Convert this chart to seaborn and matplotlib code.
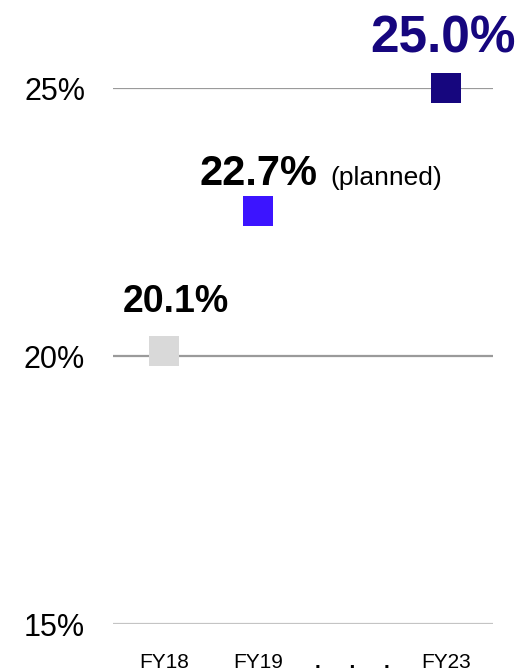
import matplotlib
matplotlib.use('Agg')
import matplotlib.pyplot as plt
import seaborn as sns
import pandas as pd

# data
categories = ['FY18', 'FY19', '.     .     .', 'FY23']
years = ['FY18', 'FY19', 'FY23']
values = [20.1, 22.7, 25.0]
value_labels = ['20.1%', '22.7%', '25.0%']
colors = ['#d9d9d9', '#3c14ff', '#16067e']
label_colors = ['#000000', '#000000', '#16067e']
y_ticks = [15, 20, 25]
y_tick_labels = ['15%', '20%', '25%']

sns.set_theme(style='white')
plt.rcParams['font.family'] = ['Liberation Sans', 'DejaVu Sans']

df = pd.DataFrame({'year': years, 'value': values})

fig = plt.figure(figsize=(5.31, 6.71), dpi=100)
ax = fig.add_axes([113 / 531, 47 / 671, 380 / 531, 536 / 671])

# gridlines
for t, c in zip(y_ticks, ['#c4c4c4', '#9a9a9a', '#9a9a9a']):
    ax.axhline(t, color=c, lw=1.6, zorder=0)

sns.stripplot(data=df, x='year', y='value', hue='year', order=categories,
              palette=dict(zip(years, colors)), marker='s', size=21.6,
              jitter=False, linewidth=0, legend=False, ax=ax, zorder=3, clip_on=False)

ax.set_xlim(-0.543, 3.495)
ax.set_ylim(15, 25)
ax.set_yticks(y_ticks, y_tick_labels)
ax.set_xticks(range(len(categories)), categories)
ax.tick_params(axis='y', length=0, pad=20, labelsize=22, labelcolor='#000000')
ax.tick_params(axis='x', length=0, pad=21, labelsize=15, labelcolor='#000000')
ax.get_xticklabels()[2].set_fontweight('bold')
ax.set_xlabel('')
ax.set_ylabel('')
for s in ax.spines.values():
    s.set_visible(False)

# value labels
label_pos = [(0.126, 20.82, 27), (1.0, 23.19, 30), (2.959, 25.67, 37)]
for (x, y, fs), txt, col in zip(label_pos, value_labels, label_colors):
    ax.text(x, y, txt, ha='center', va='baseline', fontsize=fs,
            fontweight='bold', color=col, clip_on=False)
ax.text(1.763, 23.19, '(planned)', ha='left', va='baseline', fontsize=19,
        color='#000000', clip_on=False)

fig.savefig('out.png', dpi=100)
